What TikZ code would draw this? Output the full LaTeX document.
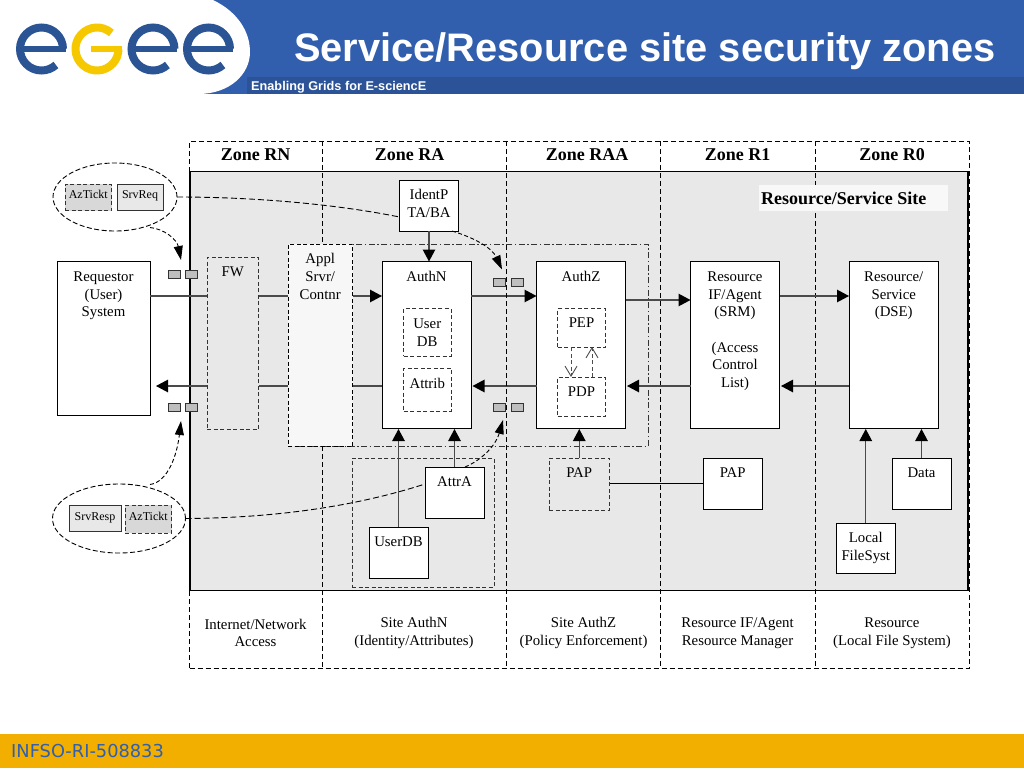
\documentclass[tikz,border=0pt]{standalone}
\usepackage{fontspec}
\setmainfont{Liberation Serif}
\newfontfamily\headfont{Liberation Sans}
\newfontfamily\footfont{DejaVu Sans}
\usetikzlibrary{positioning,arrows.meta,shapes.geometric}
\definecolor{hdblue}{HTML}{315FAE}
\definecolor{hdbar}{HTML}{2C5398}
\definecolor{ftorange}{HTML}{F2AF00}
\definecolor{logoblue}{HTML}{2B5494}
\definecolor{logoyellow}{HTML}{F6C800}
\definecolor{sitegrey}{HTML}{E8E8E8}
\definecolor{tickgrey}{HTML}{D8D8D8}
\definecolor{tabgrey}{HTML}{BEBEBE}
\definecolor{lnc}{HTML}{4A4A4A}
\tikzset{
  txt/.style={inner sep=0pt, align=center, yshift=-1pt, font=\fontsize{14.8}{17.7}\selectfont},
  ztxt/.style={inner sep=0pt, yshift=-1pt, font=\fontsize{18}{20}\selectfont\bfseries},
  sbox/.style={rectangle, draw=black, line width=0.9pt, fill=white, inner sep=0pt, outer sep=0pt},
  dbox/.style={rectangle, draw=black!80, line width=0.9pt, dash pattern=on 4pt off 2.5pt, inner sep=0pt, outer sep=0pt},
  zdash/.style={draw=black, line width=1pt, dash pattern=on 5pt off 3pt},
  tick/.style={rectangle, line width=0.9pt, draw=black!80, fill=sitegrey, inner sep=0pt, outer sep=0pt, text height=8pt, text depth=5pt, font=\fontsize{12}{14}\selectfont},
  tab/.style={rectangle, draw=black!80, line width=0.9pt, fill=tabgrey, inner sep=0pt, outer sep=0pt, minimum width=12pt, minimum height=8pt},
  conn/.style={draw=lnc, line width=1.2pt},
  arr/.style={conn, -{Triangle[length=12pt,width=12.5pt,black]}},
  carr/.style={draw=black, line width=0.9pt, dash pattern=on 4pt off 2.5pt, -{Triangle[length=14pt,width=9pt]}},
  ccurve/.style={draw=black, line width=0.9pt, dash pattern=on 6pt off 3pt},
  oarr/.style={draw=black!70, line width=0.9pt, dash pattern=on 4pt off 2.5pt, -{Straight Barb[length=10pt,width=12pt]}},
}
\begin{document}
\begin{tikzpicture}[x=1pt,y=-1pt]
\useasboundingbox (0,0) rectangle (1024,768);
% header and footer
\fill[hdblue] (0,0) rectangle (1024,94);
\fill[hdbar] (247,77) rectangle (1024,94);
\fill[white] (0,0) -- (213,0) .. controls (238,12) and (250,32) .. (250,52) .. controls (250,74) and (230,94) .. (198,94) -- (0,94) -- cycle;
\fill[ftorange] (0,734) rectangle (1024,768);
\foreach \cx in {41.5,153,208.5}{
  \draw[logoblue, line width=8pt] (\cx,49) ++(0:21.5pt) arc[start angle=0, end angle=312, radius=21.5pt];
  \draw[logoblue, line width=6pt] (\cx+24,49) -- (\cx-20,49);
}
\draw[logoyellow, line width=8pt] (97,49) ++(48:21.5pt) arc[start angle=48, end angle=360, radius=21.5pt];
\draw[logoyellow, line width=6pt] (97+25,49) -- (97-6,49);
\node[inner sep=0pt, anchor=base west, white, font=\headfont\fontsize{39.8}{42}\selectfont\bfseries] (title) at (294,61.5){Service/Resource site security zones};
\node[inner sep=0pt, anchor=base west, white, font=\headfont\fontsize{12.7}{14}\selectfont\bfseries] (subtitle) at (251,90){Enabling Grids for E-sciencE};
\node[inner sep=0pt, anchor=base west, hdblue, font=\footfont\fontsize{17.8}{20}\selectfont] (footer) at (11,757.5){INFSO-RI-508833};
% zones
\node[rectangle, draw=black, line width=1.4pt, fill=sitegrey, minimum width=778pt, minimum height=419pt, inner sep=0pt, outer sep=0pt] (site) at (579,381){};
\node[rectangle, zdash, minimum width=779.5pt, minimum height=527pt, inner sep=0pt, outer sep=0pt] (frame) at (579.25,404.5){};
\coordinate (sepa) at (322.5,141);
\coordinate (sepb) at (506.5,141);
\coordinate (sepc) at (660.5,141);
\coordinate (sepd) at (815,141);
\coordinate (sepe) at (322.5,668);
\coordinate (sepf) at (506.5,668);
\coordinate (sepg) at (660.5,668);
\coordinate (seph) at (815,668);
\draw[zdash](sepc) -- (sepg);
\draw[zdash](sepd) -- (seph);
\draw[draw=black!80, line width=0.8pt, dash pattern=on 6pt off 2.5pt on 1.5pt off 2.5pt] (288,244) rectangle (648,446);
\node[ztxt] (zrn) at (255.5,154){Zone RN};
\node[ztxt] (zra) at (409.5,154){Zone RA};
\node[ztxt] (zraa) at (587,154){Zone RAA};
\node[ztxt] (zrone) at (737.5,154){Zone R1};
\node[ztxt] (zrzero) at (892,154){Zone R0};
\node[rectangle, fill=white!70!sitegrey, minimum width=189pt, minimum height=26pt, inner sep=0pt] (sitebg) at (853.5,198){};
\node[ztxt, anchor=west] (sitetx) at (761,197){Resource/Service Site};
\node[txt] (zlrn) at (255.5,632){Internet/Network\\Access};
\node[txt] (zlra) at (414,632){Site AuthN\\(Identity/Attributes)};
\node[txt] (zlraa) at (583.5,632){Site AuthZ\\(Policy Enforcement)};
\node[txt] (zlrone) at (737.5,632){Resource IF/Agent\\Resource Manager};
\node[txt] (zlrzero) at (892,632){Resource\\(Local File System)};
% boxes
\node[sbox, minimum width=93pt, minimum height=154pt] (reqst) at (103.5,338){};
\node[txt, below=9.5pt of reqst.north] (reqsttx) {Requestor\\(User)\\System};
\node[dbox, fill=sitegrey, minimum width=51.5pt, minimum height=172pt] (fw) at (232.75,343){};
\node[txt, below=8.5pt of fw.north] (fwtx) {FW};
\node[dbox, draw=black, fill=black!3, minimum width=64.5pt, minimum height=202pt] (appl) at (320.25,345){};
\node[txt, below=8.5pt of appl.north] (appltx) {Appl\\Srvr/\\Contnr};
\draw[zdash](sepa) -- (appl.north-|sepa);
\draw[zdash](appl.south-|sepa) -- (sepe);
\node[sbox, minimum width=59pt, minimum height=51pt] (identp) at (429,205.5){};
\node[txt, below=8pt of identp.north] (identptx) {IdentP\\TA/BA};
\node[sbox, minimum width=89pt, minimum height=166.5pt] (authn) at (426.5,344.75){};
\node[txt, below=9pt of authn.north] (authntx) {AuthN};
\node[dbox, minimum width=47.5pt, minimum height=47.5pt] (userdb) at (427.25,332.25){};
\node[txt, below=9pt of userdb.north] (userdbtx) {User\\DB};
\node[dbox, minimum width=47.5pt, minimum height=43pt] (attrib) at (427.25,389.5){};
\node[txt, below=9.5pt of attrib.north] (attribtx) {Attrib};
\node[sbox, minimum width=89pt, minimum height=166.5pt] (authz) at (581,344.75){};
\node[txt, below=9pt of authz.north] (authztx) {AuthZ};
\node[dbox, minimum width=48pt, minimum height=38.5pt] (pep) at (581.5,327.75){};
\node[txt, below=8pt of pep.north] (peptx) {PEP};
\node[dbox, minimum width=48pt, minimum height=39pt] (pdp) at (581.5,396.5){};
\node[txt, below=8.5pt of pdp.north] (pdptx) {PDP};
\node[sbox, minimum width=89pt, minimum height=166.5pt] (resif) at (735,344.75){};
\node[txt, below=9pt of resif.north] (resiftx) {Resource\\IF/Agent\\(SRM)\\[17.7pt](Access\\Control\\List)};
\node[sbox, minimum width=89.5pt, minimum height=166.5pt] (dse) at (893.75,344.75){};
\node[txt, below=9pt of dse.north] (dsetx) {Resource/\\Service\\(DSE)};
\node[dbox, minimum width=142pt, minimum height=129pt] (authgrp) at (423,522.5){};
\node[sbox, minimum width=59pt, minimum height=51pt] (attra) at (454.5,492.5){};
\node[txt, below=8.5pt of attra.north] (attratx) {AttrA};
\node[sbox, minimum width=59pt, minimum height=51pt] (udb) at (398.5,552.5){};
\node[txt, below=8.5pt of udb.north] (udbtx) {UserDB};
\node[dbox, minimum width=60.5pt, minimum height=52pt] (papz) at (579.25,484){};
\node[txt, below=8.5pt of papz.north] (papztx) {PAP};
\node[sbox, minimum width=59.5pt, minimum height=51pt] (papr) at (732.75,483.5){};
\node[txt, below=8.5pt of papr.north] (paprtx) {PAP};
\node[sbox, minimum width=59pt, minimum height=51pt] (data) at (921.5,483.5){};
\node[txt, below=8.5pt of data.north] (datatx) {Data};
\node[sbox, minimum width=59.5pt, minimum height=50.5pt] (lfs) at (865.75,548.25){};
\node[txt, below=8.5pt of lfs.north] (lfstx) {Local\\FileSyst};
% tickets
\node[ellipse, draw=black, line width=0.9pt, dash pattern=on 5pt off 2.5pt, minimum width=124pt, minimum height=68pt, inner sep=0pt, outer sep=0pt] (reqell) at (115,197){};
\node[tick, fill=tickgrey, dash pattern=on 4pt off 2.5pt, minimum width=46.5pt, minimum height=26.5pt] (aztq) at (88.25,197.25){AzTickt};
\node[tick, minimum width=46pt, minimum height=26pt] (srvq) at (140,197){SrvReq};
\node[ellipse, draw=black, line width=0.9pt, dash pattern=on 5pt off 2.5pt, minimum width=133pt, minimum height=69pt, inner sep=0pt, outer sep=0pt] (respell) at (119,518.5){};
\node[tick, minimum width=52pt, minimum height=26pt] (srvp) at (95,518.75){SrvResp};
\node[tick, fill=tickgrey, dash pattern=on 4pt off 2.5pt, minimum width=46.5pt, minimum height=28pt] (azts) at (148.25,519){AzTickt};
\node[tab] (taba) at (174,274){};
\node[tab] (tabb) at (191,274){};
\node[tab] (tabc) at (174,407){};
\node[tab] (tabd) at (191,407){};
\node[tab] (tabe) at (499.75,282){};
\node[tab] (tabf) at (517,282){};
\node[tab] (tabg) at (499.75,407){};
\node[tab] (tabh) at (517,407){};
% connectors
\coordinate (upper) at (0,296);
\coordinate (uppers) at (0,300);
\coordinate (lower) at (0,386);
\draw[conn](reqst.east|-upper) -- (fw.west|-upper);
\draw[conn](fw.east|-upper) -- (appl.west|-upper);
\draw[arr](appl.east|-upper) -- (authn.west|-upper);
\draw[arr](authn.east|-upper) -- (authz.west|-upper);
\draw[arr](authz.east|-uppers) -- (resif.west|-uppers);
\draw[arr](resif.east|-upper) -- (dse.west|-upper);
\draw[arr, shorten >=1.5pt](dse.west|-lower) -- (resif.east|-lower);
\draw[arr, shorten >=1.5pt](resif.west|-lower) -- (authz.east|-lower);
\draw[arr, shorten >=1.5pt](authz.west|-lower) -- (authn.east|-lower);
\draw[conn](authn.west|-lower) -- (appl.east|-lower);
\draw[conn](appl.west|-lower) -- (fw.east|-lower);
\draw[arr, shorten >=6pt](fw.west|-lower) -- (reqst.east|-lower);
\draw[arr](identp.south) -- (authn.north-|identp.south);
\draw[arr, shorten >=1pt](udb.north) -- (authn.south-|udb.north);
\draw[arr, shorten >=1pt](attra.north) -- (authn.south-|attra.north);
\draw[arr, shorten >=1pt](papz.north) -- (authz.south-|papz.north);
\draw[conn, draw=black, line width=1pt](papz.east|-papr.west) -- (papr.west);
\draw[arr, shorten >=1pt](lfs.north) -- (dse.south-|lfs.north);
\draw[arr, shorten >=1pt](data.north) -- (dse.south-|data.north);
\coordinate (pepl) at (571,347);
\coordinate (pepr) at (592,347);
\draw[oarr](pepl) -- (pdp.north-|pepl);
\draw[oarr](pdp.north-|pepr) -- (pepr);
% zone line over the site connectors
\draw[zdash](sepb) -- (sepf);
% ticket paths
\coordinate (tipa) at (181,260);
\coordinate (tipb) at (181,421);
\coordinate (tipc) at (502,269.5);
\coordinate (tipd) at (503,420);
\coordinate (identin) at (399.5,217);
\coordinate (identout) at (452,231);
\coordinate (attrin) at (425,484);
\coordinate (attrout) at (465,467);
\coordinate (ellaout) at (150,227.5);
\coordinate (ellbout) at (150,484.5);
\draw[carr](ellaout) .. controls (165,229) and (177,240) .. (tipa);
\draw[carr](ellbout) .. controls (168,482) and (177,455) .. (tipb);
\draw[ccurve](reqell.east) .. controls (260,197) and (340,205) .. (identin);
\draw[carr](identout) .. controls (475,238) and (492,248) .. (tipc);
\draw[ccurve](respell.east) .. controls (280,518) and (360,505) .. (attrin);
\draw[carr](attrout) .. controls (482,460) and (496,445) .. (tipd);
\end{tikzpicture}
\end{document}
